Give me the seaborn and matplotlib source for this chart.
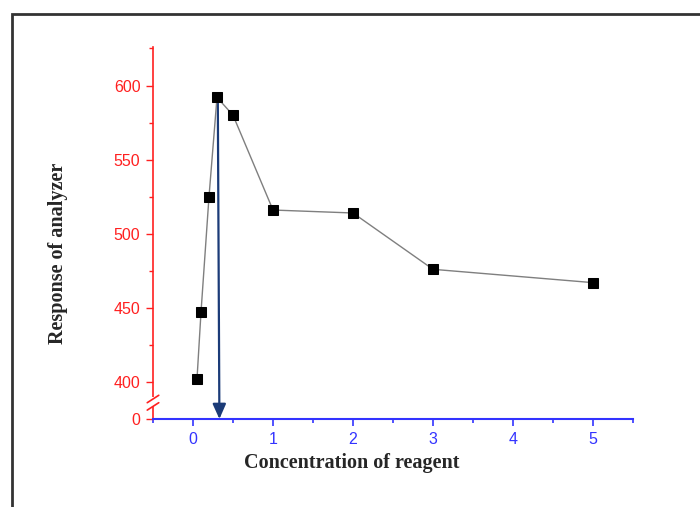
import matplotlib
matplotlib.use("Agg")
import matplotlib.pyplot as plt
import matplotlib.patches as mpatches
import matplotlib.transforms as mtrans
import seaborn as sns
import pandas as pd

concentration = [0.05, 0.1, 0.2, 0.3, 0.5, 1, 2, 3, 5]
response = [402, 447, 525, 592, 580, 516, 514, 476, 467]
x_ticks = [0, 1, 2, 3, 4, 5]
y_ticks = [375, 400, 450, 500, 550, 600]
y_tick_labels = ["0", "400", "450", "500", "550", "600"]
optimum_x = 0.3
optimum_y = 592

sns.set_style("ticks")
plt.rcParams["font.family"] = ["Liberation Sans", "DejaVu Sans"]

fig = plt.figure(figsize=(7.0, 5.07), dpi=100)
W, H = 700, 507
L, R, T, B = 153, 633, 47, 419
ax = fig.add_axes([L / W, 1 - B / H, (R - L) / W, (B - T) / H])

# figure frame
frame = mpatches.Rectangle((12 / W, -0.05), 1.2, 1 - 14 / H + 0.05,
                           transform=fig.transFigure, fill=False,
                           edgecolor="#333333", linewidth=2.0, zorder=0)
fig.patches.append(frame)

df = pd.DataFrame({"c": concentration, "r": response})
sns.lineplot(data=df, x="c", y="r", ax=ax, color="#7f7f7f", linewidth=1.0,
             marker="s", markersize=6.5, markerfacecolor="black",
             markeredgecolor="black", zorder=3)

ax.annotate("", xy=(optimum_x + 0.03, 375), xytext=(optimum_x + 0.01, optimum_y),
            arrowprops=dict(arrowstyle="-|>,head_length=0.9,head_width=0.4",
                            color="#1b3b78", lw=1.6, shrinkA=0, shrinkB=0),
            zorder=2, annotation_clip=False)

ax.set_xlim(-0.5, 5.5)
ax.set_ylim(375, 626)
for s in ["top", "right"]:
    ax.spines[s].set_visible(False)
ax.spines["left"].set_color("#ff2020")
ax.spines["bottom"].set_color("#3333ff")
ax.spines["left"].set_linewidth(1.2)
ax.spines["bottom"].set_linewidth(1.5)

ax.set_xticks(x_ticks)
ax.set_xticks([-0.5, 0.5, 1.5, 2.5, 3.5, 4.5, 5.5], minor=True)
ax.set_yticks(y_ticks)
ax.set_yticklabels(y_tick_labels)
ax.set_yticks([425, 475, 525, 575, 625], minor=True)

ax.tick_params(axis="x", which="major", colors="#3333ff", length=5, width=1.2,
               labelsize=11.5, pad=4)
ax.tick_params(axis="x", which="minor", colors="#3333ff", length=3, width=1.2)
ax.tick_params(axis="y", which="major", colors="#ff2020", length=5, width=1.0,
               labelsize=11.5, pad=4)
ax.tick_params(axis="y", which="minor", colors="#ff2020", length=3, width=1.0)

# axis break marks on y axis
blend = mtrans.blended_transform_factory(ax.transAxes, ax.transData)
ax.add_patch(mpatches.Rectangle((-0.012, 384), 0.024, 6, transform=blend,
                                facecolor="white", edgecolor="none",
                                clip_on=False, zorder=5))
for yy in (383.5, 388.5):
    ax.plot([-0.012, 0.012], [yy - 2.5, yy + 2.5], transform=blend,
            color="#ff2020", lw=1.2, clip_on=False, zorder=6)

ax.set_xlabel("Concentration of reagent", family=["Liberation Serif"],
              fontweight="bold", fontsize=14.5)
ax.set_ylabel("Response of analyzer", family=["Liberation Serif"],
              fontweight="bold", fontsize=14.5)
ax.xaxis.label.set_va("center")
ax.yaxis.label.set_va("center")
ax.yaxis.set_label_coords((58 - L) / (R - L), (B - 253) / (B - T))
ax.xaxis.set_label_coords((352 - L) / (R - L), -(463 - B) / (B - T))

fig.savefig("out.png", dpi=100)
